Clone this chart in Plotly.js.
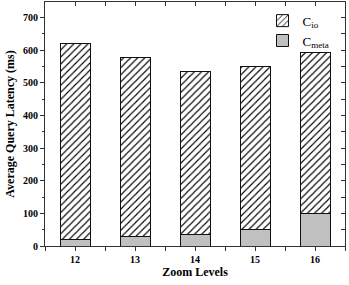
<!DOCTYPE html>
<html><head><meta charset="utf-8">
<script src="https://cdn.plot.ly/plotly-3.0.1.min.js"></script>
<style>html,body{margin:0;padding:0;background:#fff}#c{width:349px;height:285px}</style>
</head><body><div id="c"></div>
<script>
const zoomLevels = [12, 13, 14, 15, 16];
const cMeta = [20, 28, 36, 50, 100];
const cIo = [600, 550, 499, 500, 492];
const yTicks = [0, 100, 200, 300, 400, 500, 600, 700];

const F = 'Liberation Serif, Times New Roman, serif';
const axisCol = '#333';

const traces = [
  {type:'bar', x:zoomLevels, y:cMeta, name:'C<sub>meta</sub>', width:0.5,
   marker:{color:'#c0c0c0', line:{color:'#111', width:1}}},
  {type:'bar', x:zoomLevels, y:cIo, name:'C<sub>io</sub>', width:0.5,
   marker:{color:'white', line:{color:'#111', width:1},
     pattern:{shape:'/', fgcolor:'#000', bgcolor:'white', size:5, solidity:0.22, fillmode:'replace'}}},
  {type:'scatter', x:[12], y:[0], xaxis:'x2', yaxis:'y2', showlegend:false, hoverinfo:'skip', mode:'none'}
];

const layout = {
  width:349, height:285,
  margin:{l:45, r:4, t:2, b:39},
  paper_bgcolor:'white', plot_bgcolor:'white',
  barmode:'stack',
  showlegend:true,
  legend:{x:0.965, y:0.985, xanchor:'right', yanchor:'top', traceorder:'reversed',
    font:{family:F, size:13, color:'#000'}, bgcolor:'rgba(0,0,0,0)', tracegroupgap:2, itemwidth:30},
  xaxis:{range:[11.5,16.5], tickvals:zoomLevels, ticktext:zoomLevels.map(v => '<b>' + v + '</b>'),
    showgrid:false, zeroline:false, showline:true, linecolor:axisCol, linewidth:1,
    ticks:'outside', ticklen:4, tickcolor:axisCol,
    minor:{dtick:0.5, tick0:11.5, ticks:'outside', ticklen:4, tickcolor:axisCol, showgrid:false},
    tickfont:{family:F, size:10, color:'#000'},
    title:{text:'<b>Zoom Levels</b>', font:{family:F, size:12, color:'#000'}, standoff:2}},
  yaxis:{range:[0,748], tickvals:yTicks, ticktext:yTicks.map(v => '<b>' + v + '</b>'),
    showgrid:false, zeroline:false, showline:true, linecolor:axisCol, linewidth:1,
    ticks:'outside', ticklen:4, tickcolor:axisCol,
    minor:{dtick:50, ticks:'outside', ticklen:2, tickcolor:axisCol, showgrid:false},
    tickfont:{family:F, size:10, color:'#000'},
    title:{text:'<b>Average Query Latency (ms)</b>', font:{family:F, size:12, color:'#000'}, standoff:5}},
  xaxis2:{overlaying:'x', side:'top', range:[11.5,16.5], dtick:0.5, tick0:11.5, showticklabels:false,
    showgrid:false, zeroline:false, showline:true, linecolor:axisCol, linewidth:1,
    ticks:'inside', ticklen:4, tickcolor:axisCol},
  yaxis2:{overlaying:'y', side:'right', range:[0,748], dtick:50, showticklabels:false,
    showgrid:false, zeroline:false, showline:true, linecolor:axisCol, linewidth:1,
    ticks:'inside', ticklen:4, tickcolor:axisCol}
};

Plotly.newPlot('c', traces, layout, {displayModeBar:false, staticPlot:true});
</script></body></html>
